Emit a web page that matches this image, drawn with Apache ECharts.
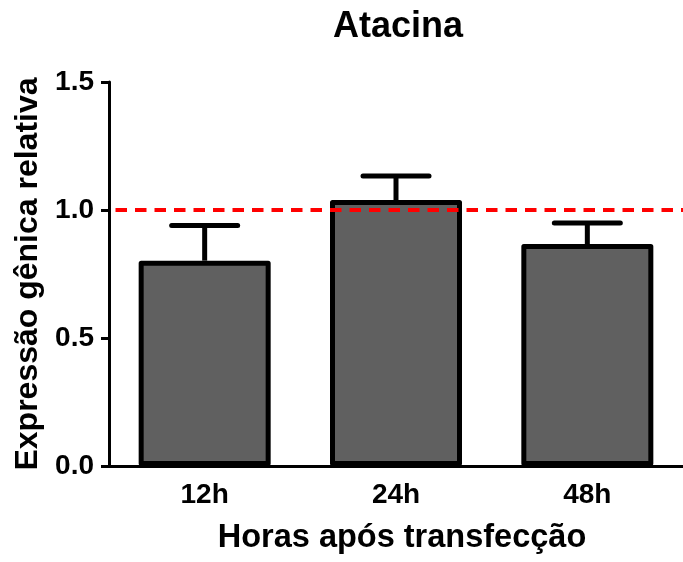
<!DOCTYPE html>
<html>
<head>
<meta charset="utf-8">
<script src="https://cdn.jsdelivr.net/npm/echarts@6/dist/echarts.min.js"></script>
<style>
html,body{margin:0;padding:0;background:#fff;}
#chart{width:683px;height:562px;}
</style>
</head>
<body>
<div id="chart"></div>
<script>
const categories = ['12h', '24h', '48h'];
const means = [0.802, 1.039, 0.867];
const upperErr = [0.939, 1.133, 0.949];
const referenceValue = 1.0;
const yTicks = [0, 0.5, 1.0, 1.5];

const FONT = 'Liberation Sans, Arial, Helvetica, sans-serif';
const chart = echarts.init(document.getElementById('chart'), null, {renderer: 'canvas'});

const option = {
  animation: false,
  backgroundColor: '#ffffff',
  title: {
    text: 'Atacina',
    left: 393, top: 4,
    textAlign: 'center',
    textStyle: {fontFamily: FONT, fontWeight: 'bold', fontSize: 36, color: '#000'}
  },
  grid: {left: 109, right: 0, top: 82, bottom: 96, containLabel: false},
  xAxis: {
    type: 'category',
    data: categories,
    name: 'Horas após transfecção',
    nameLocation: 'middle',
    nameGap: 56,
    nameTextStyle: {fontFamily: FONT, fontWeight: 'bold', fontSize: 32.5, color: '#000',
      padding: [0, 0, 0, 12]},
    axisLine: {lineStyle: {color: '#000', width: 3}},
    axisTick: {alignWithLabel: true, length: 8, lineStyle: {color: '#000', width: 3}},
    axisLabel: {margin: 15, fontFamily: FONT, fontWeight: 'bold', fontSize: 28, color: '#000'},
    splitLine: {show: false}
  },
  yAxis: {
    type: 'value',
    min: yTicks[0], max: yTicks[yTicks.length - 1], interval: 0.5,
    name: 'Expressão gênica relativa',
    nameLocation: 'middle',
    nameGap: 62,
    nameTextStyle: {fontFamily: FONT, fontWeight: 'bold', fontSize: 32, color: '#000'},
    axisLine: {show: true, lineStyle: {color: '#000', width: 3}},
    axisTick: {show: true, length: 8, lineStyle: {color: '#000', width: 3}},
    axisLabel: {margin: 15, fontFamily: FONT, fontWeight: 'bold', fontSize: 28, color: '#000',
      formatter: v => v.toFixed(1)},
    splitLine: {show: false}
  },
  series: [
    {
      type: 'bar',
      data: means,
      barWidth: 132,
      z: 2,
      itemStyle: {color: '#606060', borderColor: '#000', borderWidth: 5, borderJoin: 'round'},
      markLine: {
        silent: true,
        symbol: 'none',
        label: {show: false},
        lineStyle: {color: '#ff0000', width: 4, type: [11.5, 8], dashOffset: 13},
        data: [{yAxis: referenceValue}],
        z: 5
      }
    },
    {
      type: 'custom',
      z: 3,
      data: categories.map((c, i) => [i, means[i], upperErr[i]]),
      renderItem: function (params, api) {
        const i = api.value(0);
        const base = api.coord([i, api.value(1)]);
        const top = api.coord([i, api.value(2)]);
        const half = 33;
        return {
          type: 'group',
          children: [
            {type: 'line', shape: {x1: base[0], y1: base[1], x2: top[0], y2: top[1]},
              style: {stroke: '#000', lineWidth: 5}},
            {type: 'line', shape: {x1: top[0] - half, y1: top[1], x2: top[0] + half, y2: top[1]},
              style: {stroke: '#000', lineWidth: 5, lineCap: 'round'}}
          ]
        };
      }
    }
  ]
};
chart.setOption(option);
</script>
</body>
</html>
